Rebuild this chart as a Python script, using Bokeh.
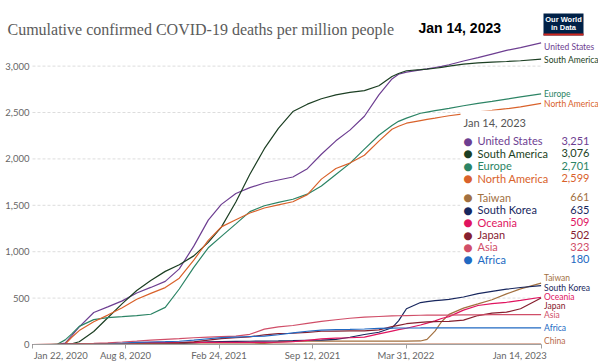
from bokeh.plotting import figure
from bokeh.models import Range1d, FixedTicker, NumeralTickFormatter, Label, BoxAnnotation
from bokeh.embed import file_html
from bokeh.resources import INLINE
import pandas as pd

# ---------------- data ----------------
dates = ["2020-01-22", "2020-03-01", "2020-03-15", "2020-04-01", "2020-04-15", "2020-05-01",
         "2020-06-01", "2020-07-01", "2020-08-01", "2020-09-01", "2020-10-01", "2020-11-01",
         "2020-12-01", "2021-01-01", "2021-02-01", "2021-03-01", "2021-04-01", "2021-05-01",
         "2021-06-01", "2021-07-01", "2021-08-01", "2021-09-01", "2021-10-01", "2021-11-01",
         "2021-12-01", "2022-01-01", "2022-02-01", "2022-03-01", "2022-03-15", "2022-04-01",
         "2022-05-01", "2022-05-15", "2022-06-01", "2022-06-15", "2022-07-01", "2022-08-01",
         "2022-09-01", "2022-10-01", "2022-11-01", "2022-12-01", "2023-01-14"]

united_states = [0, 0, 1, 15, 95, 190, 345, 405, 470, 555, 615, 680, 815, 1060, 1340, 1510, 1628,
                 1690, 1740, 1773, 1805, 1895, 2050, 2195, 2310, 2460, 2690, 2862, 2912, 2935,
                 2960, 2970, 2985, 2997, 3015, 3055, 3092, 3130, 3170, 3200, 3251]
south_america = [0, 0, 0, 2, 8, 30, 140, 288, 440, 582, 690, 788, 860, 955, 1100, 1265, 1535,
                 1835, 2110, 2330, 2510, 2590, 2648, 2690, 2717, 2736, 2788, 2888, 2920, 2950,
                 2962, 2968, 2977, 2986, 3000, 3022, 3034, 3042, 3050, 3058, 3076]
europe = [0, 0, 3, 50, 115, 195, 268, 290, 300, 311, 326, 400, 598, 832, 1042, 1165, 1300, 1432,
          1495, 1532, 1565, 1620, 1708, 1832, 1952, 2106, 2255, 2360, 2405, 2440, 2492, 2505,
          2520, 2532, 2545, 2573, 2598, 2620, 2645, 2668, 2701]
north_america = [0, 0, 0, 5, 78, 150, 245, 317, 397, 488, 551, 613, 715, 910, 1122, 1268, 1345,
                 1417, 1471, 1505, 1538, 1615, 1782, 1897, 1955, 2040, 2192, 2320, 2352, 2385,
                 2413, 2426, 2440, 2452, 2465, 2486, 2506, 2523, 2541, 2560, 2599]
taiwan = [0, 0, 0, 0, 0.2, 0.3, 0.3, 0.3, 0.3, 0.3, 0.3, 0.3, 0.3, 0.3, 0.4, 0.4, 0.4, 0.5, 12,
          28, 34, 35, 36, 36, 36, 36, 36, 36, 37, 37, 38, 55, 145, 245, 325, 392, 437, 482, 545,
          600, 661]
south_korea = [0, 0, 0.2, 3, 4, 5, 5.5, 5.5, 6, 6.5, 8, 9, 10, 17, 28, 31, 33, 35, 37, 39, 42,
               46, 48, 56, 78, 108, 132, 180, 255, 385, 452, 462, 472, 479, 487, 512, 548, 572,
               596, 614, 635]
oceania = [0, 0, 0.1, 0.5, 1.5, 2.5, 3, 4, 7, 18, 22, 22, 22, 22, 22.5, 23, 23, 23, 23.5, 24, 30,
           45, 60, 68, 73, 80, 115, 145, 160, 175, 210, 230, 255, 280, 300, 370, 420, 440, 455,
           475, 509]
japan = [0, 0, 0, 0.5, 1, 3.5, 7, 7.8, 8, 10, 12.5, 13.6, 16.5, 28, 47, 63, 73, 83, 104, 118,
         121, 131, 143, 145, 146, 147, 158, 193, 207, 224, 238, 243, 246, 248, 250, 262, 312, 338,
         348, 385, 502]
asia = [0, 1.5, 2, 3, 5, 8, 12, 18, 27, 37, 48, 56, 64, 73, 80, 85, 90, 110, 165, 190, 205, 228,
        250, 267, 283, 295, 302, 308, 310, 312, 315, 316, 316.5, 317, 317.5, 319, 320, 321, 321.5,
        322, 323]
africa = [0, 0, 0, 0.3, 0.8, 1.5, 3, 7, 14, 22, 27, 30, 35, 48, 62, 74, 80, 86, 91, 105, 125, 143,
          155, 160, 162, 167, 174, 177, 178, 178, 178.5, 179, 179, 179, 179, 179.5, 179.5, 179.5,
          180, 180, 180]
china = [0.01, 2.0, 2.2, 2.3, 3.3, 3.3, 3.3, 3.3, 3.3, 3.3, 3.3, 3.3, 3.3, 3.3, 3.3, 3.3, 3.3,
         3.3, 3.3, 3.3, 3.3, 3.3, 3.3, 3.3, 3.3, 3.3, 3.3, 3.3, 3.3, 3.3, 3.5, 3.6, 3.6, 3.6, 3.6,
         3.6, 3.6, 3.6, 3.6, 3.7, 4.3]

names = ["United States", "South America", "Europe", "North America", "Taiwan", "South Korea",
         "Oceania", "Japan", "Asia", "Africa", "China"]
final_values = ["3,251", "3,076", "2,701", "2,599", "661", "635", "509", "502", "323", "180", ""]
x_tick_dates = ["2020-01-22", "2020-08-08", "2021-02-24", "2021-09-12", "2022-03-31", "2023-01-14"]
x_tick_labels = ["Jan 22, 2020", "Aug 8, 2020", "Feb 24, 2021", "Sep 12, 2021", "Mar 31, 2022",
                 "Jan 14, 2023"]
y_ticks = [0, 500, 1000, 1500, 2000, 2500, 3000]
title_text = "Cumulative confirmed COVID-19 deaths per million people"
date_text = "Jan 14, 2023"

# ---------------- styling / layout ----------------
series = [united_states, south_america, europe, north_america, taiwan, south_korea, oceania,
          japan, asia, africa, china]
colors = ["#6d3e91", "#1c3f23", "#2c8465", "#d9622b", "#a2703f", "#18275e", "#e0145f",
          "#86202f", "#d04e68", "#2169c2", "#b86b4b"]
label_offsets = [-4, -1, 0, -0.5, 5, -2, 0.5, -8.5, -0.5, -0.5, 3.5]

W, H = 598, 363
X0_PX, X1_PX = 32.0, 540.6      # canvas x of first / last date
Y0_PX, Y3000_PX = 346.0, 66.0    # canvas y of 0 / 3000
BOTTOM = H - Y0_PX               # room for the date axis

x = pd.to_datetime(dates)
t_start = pd.Timestamp(dates[0])
t_end = pd.Timestamp(dates[-1])
per_px = (t_end - t_start) / (X1_PX - X0_PX)
x_lo = t_start - per_px * X0_PX
x_hi = t_end + per_px * (W - X1_PX)
y_top = 3000 * Y0_PX / (Y0_PX - Y3000_PX)

p = figure(width=W, height=H, x_axis_type="datetime",
           x_range=Range1d(x_lo, x_hi), y_range=Range1d(0, y_top),
           output_backend="svg", toolbar_location=None,
           min_border_left=0, min_border_right=0, min_border_top=0,
           min_border_bottom=int(BOTTOM))
p.outline_line_color = None
p.background_fill_color = "white"
p.border_fill_color = "white"

ms = lambda d: pd.Timestamp(d).value / 1e6
tick_ms = [ms(d) for d in x_tick_dates]
p.xaxis.ticker = FixedTicker(ticks=tick_ms)
shown = list(x_tick_labels)
shown[0] = "\u2003" * 4 + "\u2002" + shown[0]      # first label starts at the axis start
shown[-1] = shown[-1] + "\u2003" * 6                # last label ends at the axis end
p.xaxis.major_label_overrides = {t: lab for t, lab in zip(tick_ms, shown)}
p.xaxis.bounds = (ms(dates[0]), ms(dates[-1]))
p.xaxis.axis_line_color = "#a0a0a0"
p.xaxis.major_tick_line_color = "#a0a0a0"
p.xaxis.major_tick_out = 4
p.xaxis.major_tick_in = 0
p.xaxis.minor_tick_line_color = None
p.xaxis.major_label_standoff = 1
p.xaxis.major_label_text_font = "Lato"
p.xaxis.major_label_text_font_size = "9.5px"
p.xaxis.major_label_text_color = "#666666"

# y axis: labels drawn into the left margin of the frame
p.yaxis.ticker = FixedTicker(ticks=y_ticks)
p.yaxis.formatter = NumeralTickFormatter(format="0,0")
p.yaxis.axis_line_color = None
p.yaxis.major_tick_line_color = None
p.yaxis.minor_tick_line_color = None
p.yaxis.major_tick_out = 0
p.yaxis.major_tick_in = 0
p.yaxis.major_label_standoff = -29
p.yaxis.major_label_text_font = "Lato"
p.yaxis.major_label_text_font_size = "9.5px"
p.yaxis.major_label_text_color = "#666666"

p.grid.visible = False
g = y_ticks[1:]
p.segment(x0=[t_start] * len(g), y0=g, x1=[t_end] * len(g), y1=g,
          line_color="#dddddd", line_width=1, line_dash="3 2")

# series lines
for vals, col in zip(series, colors):
    p.line(x, vals, line_color=col, line_width=1.2)

# end-of-line labels
for name, vals, col, off in zip(names, series, colors, label_offsets):
    p.add_layout(Label(x=t_end, y=vals[-1], text=name, x_offset=3, y_offset=off,
                       text_align="left", text_baseline="middle", text_font="Lato",
                       text_font_size="8.5px", text_color=col))

def canvas_label(xx, yy, text, **kw):
    p.add_layout(Label(x=xx, y=yy, x_units="canvas", y_units="canvas", text=text, **kw))

def canvas_box(l, r, t, b, color):
    p.add_layout(BoxAnnotation(left=l, right=r, top=t, bottom=b, left_units="canvas",
                               right_units="canvas", top_units="canvas", bottom_units="canvas",
                               fill_color=color, fill_alpha=1, line_color=None))

# tooltip-like legend box
canvas_box(460, W, 110, 268, "white")
canvas_label(463, 121.5, date_text, text_align="left", text_baseline="middle",
             text_font="Lato", text_font_size="11px", text_color="#555555")
row_y = [140, 152.5, 165, 177.5, 196.5, 209, 221.5, 234, 246, 258.5]
for name, val, col, ry in zip(names[:10], final_values[:10], colors[:10], row_y):
    canvas_label(467.3, ry, "\u25cf", text_align="center", text_baseline="middle",
                 text_font="DejaVu Sans", text_font_size="10.5px", text_color=col)
    canvas_label(477, ry, name, text_align="left", text_baseline="middle",
                 text_font="Lato", text_font_size="11px", text_color=col)
    canvas_label(589, ry, val, text_align="right", text_baseline="middle",
                 text_font="Lato", text_font_size="11px", text_color=col)

# header: title, date, logo
canvas_label(7, 29, title_text, text_align="left", text_baseline="alphabetic",
             text_font="Liberation Serif", text_font_size="16px", text_color="#5b5b5b")
canvas_label(418, 27, date_text, text_align="left", text_baseline="alphabetic",
             text_font="Liberation Sans", text_font_size="14px", text_font_style="bold",
             text_color="#000000")
canvas_box(543, 583, 13, 35, "#002147")
canvas_box(543, 583, 33, 35, "#ce261e")
canvas_label(563, 18.7, "Our World", text_align="center", text_baseline="middle",
             text_font="Liberation Sans", text_font_size="7.5px", text_font_style="bold",
             text_color="white")
canvas_label(563, 27.3, "in Data", text_align="center", text_baseline="middle",
             text_font="Liberation Sans", text_font_size="7.5px", text_font_style="bold",
             text_color="white")

open("out.html", "w").write(file_html(p, INLINE))
